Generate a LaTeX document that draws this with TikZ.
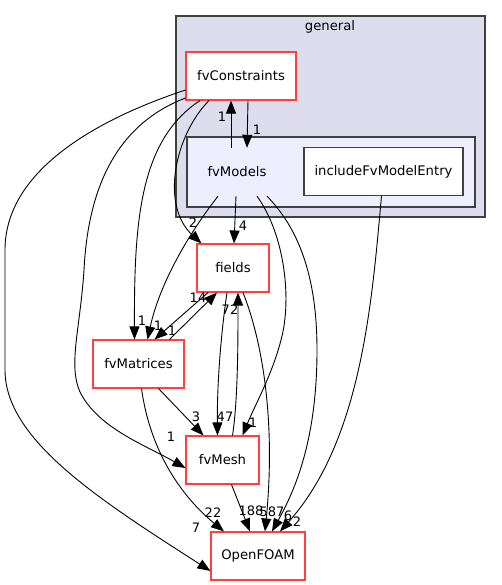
\documentclass[tikz,border=0pt]{standalone}
\usepackage{fontspec}
\setmainfont{DejaVu Sans}
\usetikzlibrary{arrows.meta,calc}
\definecolor{dirred}{HTML}{FF4040}
\definecolor{dirgray}{HTML}{404040}
\definecolor{clusterbg}{HTML}{DDDDEE}
\definecolor{subclusterbg}{HTML}{EEEEFF}

\begin{document}
\begin{tikzpicture}[x=1pt,y=-1pt,
  every node/.style={font=\fontsize{13.2}{15}\selectfont,inner sep=0pt},
  dirbox/.style={draw=dirred,line width=1.1pt,fill=white,minimum height=48pt},
  leafbox/.style={draw=dirgray,line width=1.1pt,fill=white,minimum height=48pt},
  clusterbox/.style={draw=dirgray,line width=1.1pt},
  dep/.style={draw=black,line width=0.9pt,-{Triangle[length=13pt,width=10pt]}},
  num/.style={font=\fontsize{13}{14}\selectfont}]
\useasboundingbox (0,0) rectangle (501,585);
% clusters
\node[clusterbox,fill=clusterbg,minimum width=309pt,minimum height=201pt] (general) at (330.5,116.5) {};
\node (generalLabel) at (330,27) {general};
\node[clusterbox,fill=subclusterbg,minimum width=288pt,minimum height=70pt] (fvModelsDir) at (331,172) {};
\node[minimum width=100pt,minimum height=48pt] (fvModels) at (237,172) {fvModels};
% directories
\node[dirbox,minimum width=110pt] (fvConstraints) at (241,76) {fvConstraints};
\node[leafbox,minimum width=159pt] (includeFvModelEntry) at (383.5,171.5) {includeFvModelEntry};
\node[dirbox,minimum width=72pt] (fields) at (233,268) {fields};
\node[dirbox,minimum width=91pt] (fvMatrices) at (138.5,364) {fvMatrices};
\node[dirbox,minimum width=73pt] (fvMesh) at (222.5,460) {fvMesh};
\node[dirbox,minimum width=94pt] (OpenFOAM) at (258,556) {OpenFOAM};
% fvConstraints
\draw[dep] ([xshift=7pt]fvConstraints.south) -- ([xshift=10pt]fvModels.north);
\draw[dep] ([xshift=-32pt]fvConstraints.south) .. controls (175,135) and (160,205) .. ([xshift=5pt]fields.north west);
\draw[dep] ([xshift=-41pt]fvConstraints.south) .. controls (140,140) and (134,220) .. ([xshift=-4pt]fvMatrices.north);
\draw[dep] ([yshift=-22pt]fvConstraints.west) .. controls (115,125) and (88,190) .. (84,270)
  .. controls (80,330) and (68,365) .. (80,392) .. controls (98,428) and (145,445) .. ([yshift=-8pt]fvMesh.west);
\draw[dep] ([yshift=-14pt]fvConstraints.west) .. controls (110,115) and (5,165) .. (5,250) -- (5,370)
  .. controls (5,440) and (100,500) .. ([yshift=-15pt]OpenFOAM.west);
% fvModels
\draw[dep] ([xshift=-6pt]fvModels.north) -- ([xshift=-10pt]fvConstraints.south);
\draw[dep] ([xshift=-1pt]fvModels.south) -- ([xshift=1pt]fields.north);
\draw[dep] ([xshift=-19pt]fvModels.south) .. controls (190,232) and (160,282) .. ([xshift=9pt]fvMatrices.north);
\draw[dep] ([xshift=20pt]fvModels.south) .. controls (285,235) and (292,300) .. (281,340)
  .. controls (272,375) and (255,405) .. ([xshift=20pt]fvMesh.north);
\draw[dep] ([xshift=30pt]fvModels.south) .. controls (305,235) and (317,290) .. (317,350)
  .. controls (317,440) and (295,490) .. ([xshift=14pt]OpenFOAM.north);
\draw[dep] ([xshift=-2pt]includeFvModelEntry.south) .. controls (372,300) and (362,440) .. ([xshift=22pt]OpenFOAM.north);
% fields
\draw[dep] ([xshift=-25pt]fields.south) -- ([xshift=16pt]fvMatrices.north);
\draw[dep] ([xshift=-6pt]fields.south) .. controls (220,340) and (217,390) .. ([xshift=-5pt]fvMesh.north);
\draw[dep] ([xshift=10pt]fields.south) .. controls (262,340) and (276,420) .. ([xshift=7pt]OpenFOAM.north);
% fvMatrices, fvMesh
\draw[dep] ([xshift=31pt]fvMatrices.north) -- ([xshift=-16pt]fields.south);
\draw[dep] ([xshift=20pt]fvMatrices.south) -- ([xshift=-19pt]fvMesh.north);
\draw[dep] ([xshift=3pt]fvMatrices.south) .. controls (150,450) and (180,495) .. ([xshift=-34pt]OpenFOAM.north);
\draw[dep] ([xshift=9pt]fvMesh.south) -- ([xshift=-8pt]OpenFOAM.north);
\draw[dep] ([xshift=10pt]fvMesh.north) .. controls (238,400) and (238,340) .. ([xshift=5pt]fields.south);
% counts
\node[num] (nA) at (257,130) {1};
\node[num] (nB) at (222,117) {1};
\node[num] (nC) at (193,223) {2};
\node[num] (nD) at (243,226) {4};
\node[num] (nE) at (198,298) {14};
\node[num] (nF) at (230,310) {72};
\node[num] (nG) at (142,321) {1};
\node[num] (nH) at (158,326) {1};
\node[num] (nI) at (172,331) {1};
\node[num] (nJ) at (196,417) {3};
\node[num] (nK) at (225,417) {47};
\node[num] (nL) at (253,423) {1};
\node[num] (nM) at (171,437) {1};
\node[num] (nN) at (213,513) {22};
\node[num] (nO) at (251,511) {188};
\node[num] (nP) at (272,512) {587};
\node[num] (nQ) at (288,516) {6};
\node[num] (nR) at (297,522) {2};
\node[num] (nS) at (196,528) {7};
\end{tikzpicture}
\end{document}
